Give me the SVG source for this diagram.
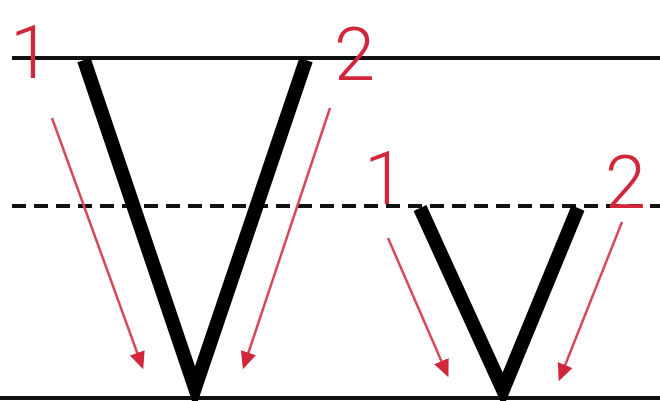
<svg xmlns="http://www.w3.org/2000/svg" width="660" height="401" viewBox="0 0 660 401">
<defs>
<marker id="ah" viewBox="0 0 10 10" refX="8" refY="5" markerWidth="7" markerHeight="7" orient="auto" markerUnits="strokeWidth">
<path d="M0,0.5 L10,5 L0,9.5 Z" fill="#d0283a"/>
</marker>
</defs>
<style>
.guide{stroke:#111;stroke-width:4;fill:none}
.dash{stroke:#111;stroke-width:4;stroke-dasharray:14 8;fill:none}
.letter{stroke:#000;stroke-width:14;fill:none;stroke-linejoin:miter;stroke-linecap:butt}
.arrow{stroke:#d44a58;stroke-width:2.5;fill:none;marker-end:url(#ah)}
.num{font-family:Roboto,"Liberation Sans",Arial,sans-serif;font-size:74px;fill:#d0283a;font-weight:300}
</style>
<rect width="660" height="401" fill="#fff"/>
<g id="guides">
<line class="guide" x1="12" y1="58" x2="660" y2="58"/>
<line class="dash" x1="12" y1="206" x2="660" y2="206"/>
<line class="guide" x1="0" y1="398" x2="660" y2="398"/>
</g>
<g id="letter-V">
<polyline class="letter" points="84,60 195,388 306,60"/>
</g>
<g id="letter-v">
<polyline class="letter" points="420,208 503,390 578,208"/>
</g>
<g id="connectors">
<line class="arrow" x1="52" y1="118" x2="142" y2="366"/>
<line class="arrow" x1="330" y1="108" x2="244" y2="366"/>
<line class="arrow" x1="388" y1="238" x2="447" y2="374"/>
<line class="arrow" x1="622" y1="222" x2="560" y2="378"/>
</g>
<g id="labels">
<text class="num" x="10" y="78">1</text>
<text class="num" x="334" y="80">2</text>
<text class="num" x="364" y="204">1</text>
<text class="num" x="605" y="208">2</text>
</g>
</svg>
